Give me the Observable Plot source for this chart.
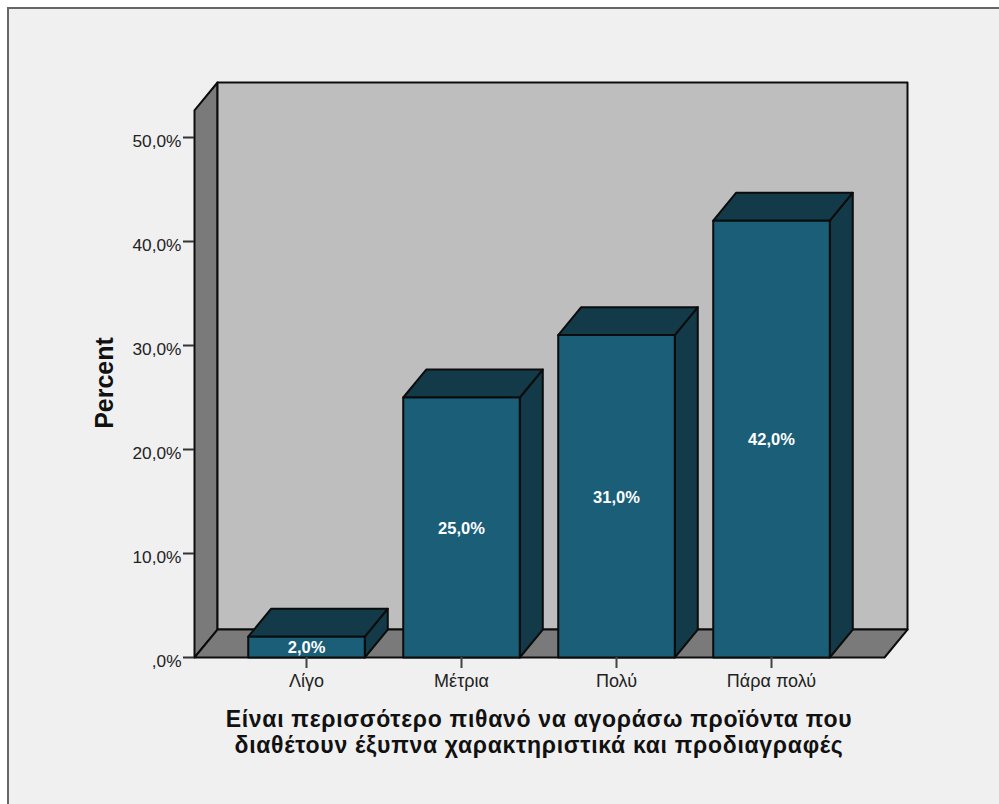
<!DOCTYPE html>
<html>
<head>
<meta charset="utf-8">
<script src="https://cdn.jsdelivr.net/npm/d3@7"></script>
<script src="https://cdn.jsdelivr.net/npm/@observablehq/plot@0.6"></script>
<style>
  html, body { margin: 0; padding: 0; background: #fff; overflow: hidden; }
  #panel { position: absolute; left: 7px; top: 7px; width: 992px; height: 797px; box-sizing: border-box;
           background: #f0f0f0; border-left: 2px solid #666; border-top: 2px solid #666; }
  #chart { position: absolute; left: 0; top: 0; }
  #chart svg { background: transparent; display: block; }
</style>
</head>
<body>
<div id="panel"></div>
<div id="chart"></div>
<script>
// Survey answers and their share of respondents
const categories = ["Λίγο", "Μέτρια", "Πολύ", "Πάρα πολύ"];
const percents = [2, 25, 31, 42];
const valueLabels = ["2,0%", "25,0%", "31,0%", "42,0%"];
const yTicks = [0, 10, 20, 30, 40, 50];
const yTickLabels = [",0%", "10,0%", "20,0%", "30,0%", "40,0%", "50,0%"];
const xLabelLines = [
  "Είναι περισσότερο πιθανό να αγοράσω προϊόντα που",
  "διαθέτουν έξυπνα χαρακτηριστικά και προδιαγραφές"
];

// Extent of the box and the oblique depth, in scale units
const xMin = -0.7226, xMax = 3.7290;
const yTop = 52.6;
const depthX = 0.1484, depthY = 2.69;
const halfBar = 0.376;

const colors = {wall: "#bebebe", side: "#7a7a7a", front: "#1a5e78", dark: "#123a48"};

// A closed outline: one row per corner, keyed by the shape it belongs to
function outline(id, fill, corners) {
  const closed = [...corners, corners[0]];
  return closed.map(([x, y]) => ({id, fill, x, y}));
}

const shapes = [
  ...outline("left", colors.side, [[xMin, 0], [xMin + depthX, depthY], [xMin + depthX, yTop + depthY], [xMin, yTop]]),
  ...outline("back", colors.wall, [[xMin + depthX, depthY], [xMax + depthX, depthY], [xMax + depthX, yTop + depthY], [xMin + depthX, yTop + depthY]]),
  ...outline("floor", colors.side, [[xMin, 0], [xMax, 0], [xMax + depthX, depthY], [xMin + depthX, depthY]]),
  ...percents.flatMap((v, i) => {
    const l = i - halfBar, r = i + halfBar;
    return [
      ...outline(`side${i}`, colors.dark, [[r, 0], [r + depthX, depthY], [r + depthX, v + depthY], [r, v]]),
      ...outline(`top${i}`, colors.dark, [[l, v], [r, v], [r + depthX, v + depthY], [l + depthX, v + depthY]]),
      ...outline(`front${i}`, colors.front, [[l, 0], [r, 0], [r, v], [l, v]])
    ];
  })
];

const fontFamily = "'Liberation Sans', Arial, sans-serif";

const chart = Plot.plot({
  width: 999,
  height: 804,
  marginLeft: 194,
  marginRight: 92,
  marginTop: 82,
  marginBottom: 147,
  style: {fontFamily, background: "transparent"},
  x: {domain: [xMin, xMax + depthX], axis: null},
  y: {domain: [0, yTop + depthY], axis: null},
  marks: [
    Plot.line(shapes, {
      x: "x", y: "y", z: "id", fill: "fill",
      stroke: "#0c0c0c", strokeWidth: 2, strokeLinejoin: "round", curve: "linear"
    }),
    // Tick strokes and tick labels are separate so the labels can sit a little lower
    Plot.axisY({
      ticks: yTicks, tickSize: 11, label: null, tickFormat: () => "",
      stroke: "#333", strokeWidth: 2
    }),
    Plot.axisY({
      ticks: yTicks, tickSize: 0, tickPadding: 13, label: null,
      tickFormat: d => yTickLabels[yTicks.indexOf(d)],
      fontSize: 17.3, dy: 4, fill: "#222"
    }),
    Plot.axisX({
      ticks: categories.map((_, i) => i), tickSize: 11, tickPadding: 6, label: null,
      tickFormat: i => categories[i],
      fontSize: 18, stroke: "#444", strokeWidth: 2, fill: "#222"
    }),
    Plot.text(percents, {
      x: (_, i) => i, y: v => v / 2, text: (_, i) => valueLabels[i],
      fill: "white", fontWeight: "bold", fontSize: 16.5, dy: 1
    }),
    Plot.text(["Percent"], {
      frameAnchor: "left", textAnchor: "middle", text: d => d, rotate: -90, dx: -90, dy: 13,
      fontWeight: "bold", fontSize: 25, fill: "#111"
    }),
    // Two-line axis title below the category labels
    ...xLabelLines.map((line, i) => Plot.text([line], {
      x: () => 1.5, frameAnchor: "bottom", lineAnchor: "middle", text: d => d, dy: 62 + 26 * i,
      fontWeight: "bold", fontSize: 23, fill: "#111"
    }))
  ]
});

// The axis title is set slightly wider than the font's natural spacing
chart.querySelectorAll("text").forEach(node => {
  if (xLabelLines.includes(node.textContent)) node.style.letterSpacing = "0.7px";
});

document.getElementById("chart").append(chart);
</script>
</body>
</html>
